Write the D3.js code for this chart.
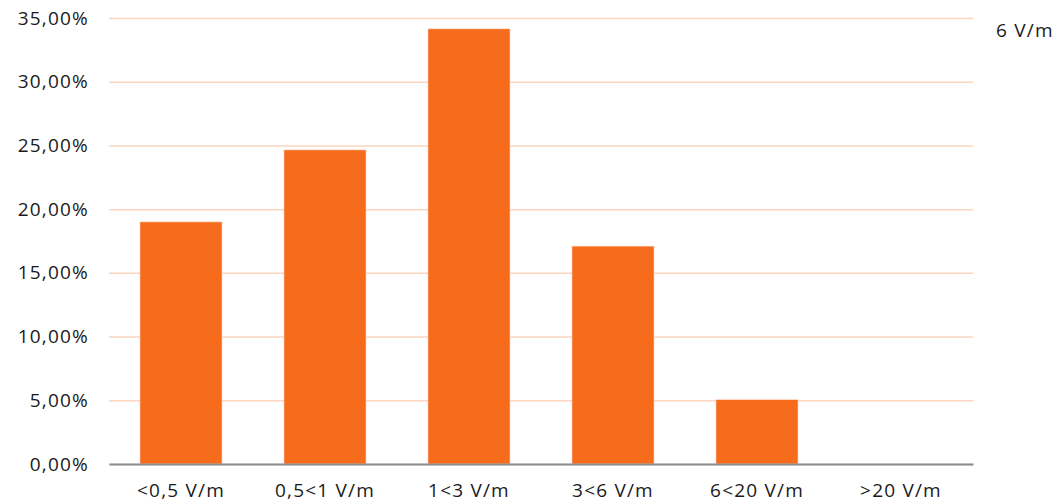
<!DOCTYPE html>
<html><head><meta charset="utf-8">
<script src="https://cdn.jsdelivr.net/npm/d3@7"></script>
<style>body{margin:0;background:#fff}svg{display:block}text{font-family:"Open Sans",sans-serif;fill:#1a1a1a;letter-spacing:1.2px}</style>
</head><body><svg id="c" width="1061" height="504"></svg>
<script>
const categories = ["<0,5 V/m","0,5<1 V/m","1<3 V/m","3<6 V/m","6<20 V/m",">20 V/m"];
const values = [19.0, 24.65, 34.15, 17.1, 5.05, 0];
const yTicks = [0,5,10,15,20,25,30,35];
const legendLabel = "6 V/m";

const svg = d3.select("#c");
const m = {l:109, r:88, t:18, b:40};
const W = 1061, H = 504;
const x = d3.scaleBand().domain(categories).range([m.l, W-m.r]).paddingInner(0.43).paddingOuter(0.215);
const y = d3.scaleLinear().domain([0,35]).range([H-m.b, m.t]);
const fmt = v => v.toFixed(2).replace(".", ",") + "%";

const ga = svg.append("g").attr("transform",`translate(${m.l},0)`)
  .call(d3.axisLeft(y).tickValues(yTicks).tickSize(-(W-m.l-m.r)).tickPadding(20).tickFormat(fmt));
ga.select(".domain").remove();
ga.selectAll(".tick line").attr("stroke","#fdd4bd").attr("stroke-width",1.5);
ga.selectAll(".tick text").style("font-size","19px").attr("fill","#1a1a1a");

svg.append("g").selectAll("rect").data(values).join("rect")
  .attr("x",(d,i)=>x(categories[i])).attr("width",x.bandwidth())
  .attr("y",d=>y(d)).attr("height",d=>y(0)-y(d))
  .attr("fill","#f76b1c").attr("stroke","#fde0cf").attr("stroke-width",0.6);

const gx = svg.append("g").attr("transform",`translate(0,${y(0)})`)
  .call(d3.axisBottom(x).tickSize(0).tickPadding(20));
gx.select(".domain").attr("stroke","#8c8c8c").attr("stroke-width",2);
gx.selectAll(".tick text").style("font-size","19px").attr("fill","#1a1a1a");

svg.append("text").attr("x",996).attr("y",37).style("font-size","19px").text(legendLabel);
</script></body></html>
